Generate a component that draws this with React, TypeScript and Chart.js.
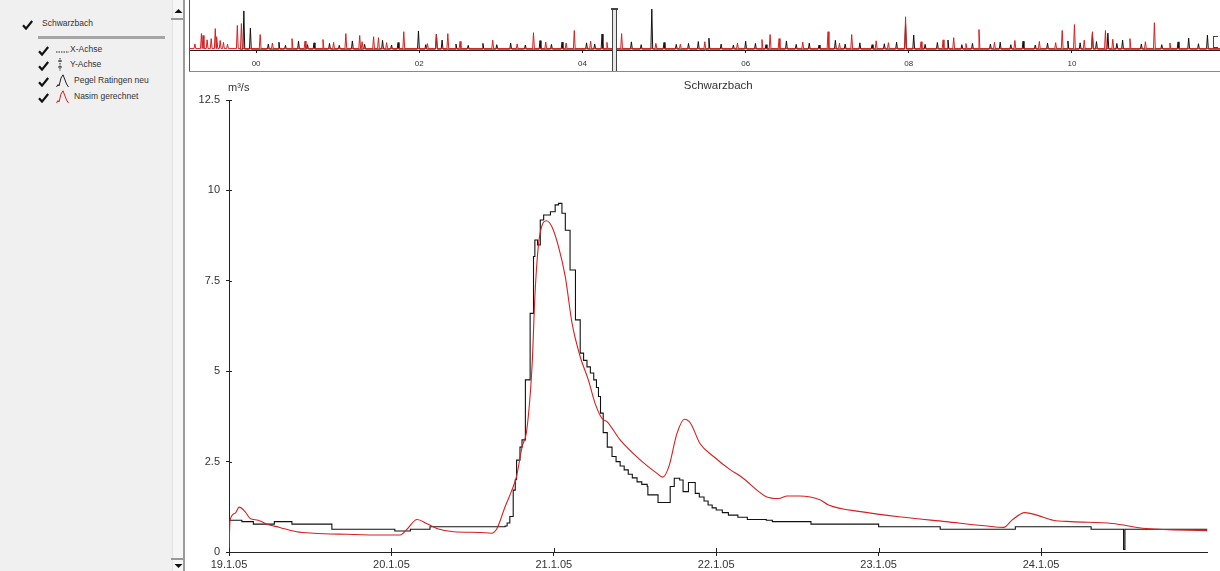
import React, { useEffect, useRef } from 'react';
import { Chart, registerables } from 'chart.js';
Chart.register(...registerables);

const FONT = '"Liberation Sans", Arial, sans-serif';
const RED = '#d71f1f';
const BLACK = '#111111';

// ---------- main chart (hours since 19.1.05 00:00) ----------
const xTickHours = [0, 24, 48, 72, 96, 120];
const xTickLabels = ['19.1.05', '20.1.05', '21.1.05', '22.1.05', '23.1.05', '24.1.05'];
const yTicks = [0, 2.5, 5, 7.5, 10, 12.5];
const yTickLabels = ['0', '2.5', '5', '7.5', '10', '12.5'];
const xMaxHours = 144.6;

// Pegel Ratingen neu (measured, stepped)
const pegelHours = [
  0, 1.9, 3.6, 6.7, 9.3, 15.2, 24.5, 26.8, 29.7, 40.8, 41.1, 41.5, 42.0, 42.3, 42.5, 43.0, 43.3,
  43.8, 44.5, 45.0, 45.2, 45.6, 46.0, 46.5, 47.5, 48.2, 48.7, 49.2, 49.7, 50.4, 51.2, 51.9, 52.4,
  52.9, 53.4, 53.9, 54.3, 54.6, 54.9, 55.3, 55.9, 56.6, 57.2, 57.8, 58.4, 59.0, 59.6, 60.3, 61.0,
  61.8, 61.9, 63.4, 64.6, 65.2, 65.8, 66.6, 67.1, 67.9, 68.9, 69.5, 70.2, 70.8, 71.4, 72.0, 72.9,
  73.8, 75.2, 76.6, 79.4, 80.3, 86.0, 96.0, 105.1, 116.2, 127.4, 131.9, 132.2, 132.4, 144.6,
];
const pegelValues = [
  0.88, 0.84, 0.77, 0.84, 0.77, 0.63, 0.58, 0.63, 0.70, 0.72, 0.80, 0.98, 1.71, 2.0, 2.54, 2.9, 3.1,
  4.76, 6.6, 8.17, 8.63, 8.49, 9.18, 9.32, 9.41, 9.6, 9.64, 9.37, 8.9, 7.8, 6.42, 5.5, 5.3,
  5.12, 4.95, 4.76, 4.55, 4.3, 3.84, 3.3, 2.9, 2.64, 2.5, 2.38, 2.27, 2.15, 2.05, 1.94, 1.87,
  1.81, 1.58, 1.37, 1.37, 1.81, 2.04, 1.99, 1.67, 1.92, 1.62, 1.52, 1.41, 1.30, 1.22, 1.16, 1.09,
  1.02, 0.96, 0.90, 0.88, 0.84, 0.77, 0.70, 0.63, 0.70, 0.63, 0.63, 0.07, 0.63, 0.63,
];

// Nasim gerechnet (simulated)
const nasimHours = [
  0, 0.15, 0.9, 1.5, 2.4, 3.1, 4.3, 5.6, 7.5, 10.0, 12.5, 17.4, 22.3, 25.3, 26.3, 27.8, 29.2, 30.7,
  33.2, 37.1, 38.8, 39.6, 40.8, 41.8, 42.5, 43.3, 44.0, 44.8, 45.2, 45.7, 46.2, 46.9, 47.7, 48.7,
  49.7, 50.7, 51.9, 53.1, 54.1, 55.1, 55.9, 57.8, 60.8, 63.2, 64.1, 65.0, 66.2, 67.3, 68.2, 69.6,
  71.6, 74.1, 75.7, 79.4, 81.2, 82.5, 84.3, 87.4, 88.6, 93.6, 99.7, 105.9, 112.0, 114.5, 115.7,
  117.6, 119.4, 121.8, 124.4, 130.5, 135.5, 144.6,
];
const nasimValues = [
  0.0, 0.88, 1.07, 1.24, 1.11, 0.93, 0.88, 0.77, 0.68, 0.56, 0.52, 0.49, 0.47, 0.47, 0.63, 0.90, 0.79, 0.65,
  0.56, 0.54, 0.52, 0.65, 1.25, 1.71, 2.1, 2.9, 3.37, 5.2, 7.06, 8.44, 9.0, 9.16, 9.0, 8.44,
  7.61, 6.32, 5.4, 4.76, 4.11, 3.70, 3.6, 3.1, 2.54, 2.18, 2.07, 2.36, 3.28, 3.67, 3.56, 3.0,
  2.64, 2.27, 2.08, 1.53, 1.48, 1.55, 1.55, 1.44, 1.30, 1.11, 0.96, 0.84, 0.72, 0.68, 0.88,
  1.09, 1.02, 0.88, 0.84, 0.79, 0.65, 0.59,
];

// ---------- overview chart (years) ----------
const ovMin = 1999.19;
const ovMax = 2011.814;
const ovTickYears = [2000, 2002, 2004, 2006, 2008, 2010];
const ovTickLabels = ['00', '02', '04', '06', '08', '10'];
const ovMarkerYear = 2004.39;
const ovPegelStart = 1999.8;
const ovNasimStart = 1999.19;
const ovPegelBase = 0.3;
const ovNasimBase = 0.45;

const ovNasimSpikeYears = [
  1999.25, 1999.33, 1999.35, 1999.4, 1999.45, 1999.5, 1999.52, 1999.56, 1999.6, 1999.65, 1999.77, 1999.82,
  2000.05, 2000.2, 2000.44, 2000.6, 2000.82, 2000.95, 2001.1, 2001.27, 2001.3, 2001.44, 2001.5, 2001.6,
  2001.81, 2002.1, 2002.21, 2002.35, 2002.5, 2002.9, 2003.2, 2003.4, 2003.55, 2003.8, 2003.9, 2004.1,
  2004.3, 2004.48, 2004.9, 2005.2, 2005.5, 2005.9, 2006.2, 2006.3, 2006.41, 2006.7, 2007.01, 2007.15,
  2007.3, 2007.6, 2007.75, 2007.96, 2008.15, 2008.42, 2008.55, 2008.7, 2008.86, 2009.05, 2009.3, 2009.6,
  2009.8, 2009.88, 2010.03, 2010.15, 2010.25, 2010.41, 2010.5, 2010.71, 2010.9, 2011.01, 2011.2,
];
const ovNasimSpikeHeights = [
  1.5, 4.8, 4.2, 2.8, 3.2, 6.4, 3.8, 2.6, 2.0, 1.4, 7.4, 8.0,
  4.5, 1.8, 3.2, 2.4, 2.9, 2.0, 4.8, 4.2, 2.2, 3.8, 3.5, 1.9,
  5.4, 1.6, 4.5, 4.8, 2.3, 2.7, 1.5, 5.1, 2.1, 1.8, 5.8, 2.4,
  2.0, 4.8, 1.7, 1.4, 2.2, 1.8, 2.9, 4.5, 3.2, 2.1, 5.4, 1.7,
  4.5, 2.5, 1.9, 10.2, 2.2, 2.8, 3.5, 1.6, 6.1, 2.0, 2.6, 2.3,
  1.9, 5.8, 7.7, 2.7, 5.4, 5.8, 3.0, 3.2, 2.2, 8.3, 1.8,
];

const ovPegelSpikeYears = [
  1999.85, 1999.93, 2000.15, 2000.28, 2000.36, 2000.52, 2000.63, 2000.71, 2000.9, 2001.02, 2001.18,
  2001.33, 2001.55, 2001.66, 2001.74, 2001.99, 2002.08, 2002.21, 2002.28, 2002.45, 2002.6, 2002.78,
  2002.95, 2003.12, 2003.3, 2003.48, 2003.62, 2003.75, 2004.05, 2004.15, 2004.24, 2004.4, 2004.6,
  2004.72, 2004.85, 2005.0, 2005.15, 2005.3, 2005.42, 2005.55, 2005.7, 2005.85, 2006.0, 2006.12,
  2006.25, 2006.5, 2006.62, 2006.78, 2006.9, 2007.1, 2007.22, 2007.4, 2007.55, 2007.7, 2007.85,
  2007.96, 2008.06, 2008.2, 2008.35, 2008.48, 2008.65, 2008.78, 2009.0, 2009.12, 2009.25, 2009.4,
  2009.55, 2009.7, 2009.95, 2010.1, 2010.25, 2010.3, 2010.44, 2010.55, 2010.62, 2010.85, 2011.1,
  2011.3, 2011.43, 2011.55, 2011.66,
];
const ovPegelSpikeHeights = [
  12.2, 6.7, 1.6, 2.2, 1.2, 2.5, 1.4, 2.0, 1.8, 1.2, 2.6,
  1.5, 2.8, 1.3, 2.1, 5.8, 1.4, 4.8, 2.9, 1.6, 1.2, 1.8,
  1.4, 1.9, 1.3, 2.7, 1.5, 2.2, 2.0, 1.6, 4.8, 5.4, 2.3,
  1.4, 12.8, 2.1, 1.5, 1.8, 2.4, 3.5, 1.6, 1.3, 2.5, 1.8,
  1.4, 2.6, 1.5, 1.9, 1.3, 2.8, 1.6, 2.0, 1.4, 1.7, 2.2,
  8.0, 4.5, 1.5, 2.1, 2.9, 1.4, 1.8, 1.6, 2.2, 1.4, 2.5,
  1.3, 1.9, 2.6, 2.0, 4.8, 2.4, 5.1, 1.8, 2.9, 1.6, 1.4,
  2.3, 3.5, 1.7, 4.5,
];

function spikeSeries(start: number, end: number, base: number, years: number[], heights: number[]) {
  const pts: { x: number; y: number }[] = [{ x: start, y: base }];
  years.forEach((t, i) => {
    pts.push({ x: t - 0.011, y: base });
    pts.push({ x: t, y: base + heights[i] });
    pts.push({ x: t + 0.011, y: base });
  });
  pts.push({ x: end, y: base });
  pts.sort((a, b) => a.x - b.x);
  return pts;
}

function CheckMark({ x, y }: { x: number; y: number }) {
  return (
    <svg style={{ position: 'absolute', left: x, top: y }} width={11} height={10}>
      <path d="M1 5.2 L4 8.6 L10.2 1" stroke="#111" strokeWidth={2.2} fill="none" />
    </svg>
  );
}

function Label({ x, y, text }: { x: number; y: number; text: string }) {
  return (
    <div style={{ position: 'absolute', left: x, top: y, fontSize: 8.5, lineHeight: '10px', color: '#333', fontFamily: FONT, whiteSpace: 'nowrap' }}>
      {text}
    </div>
  );
}

export default function App() {
  const mainRef = useRef<HTMLCanvasElement>(null);
  const ovRef = useRef<HTMLCanvasElement>(null);

  useEffect(() => {
    document.body.style.margin = '0';
    const mainCanvas = mainRef.current!;
    const ovCanvas = ovRef.current!;

    const mainDecor = {
      id: 'mainDecor',
      afterDraw(chart: any) {
        const { ctx, chartArea, scales } = chart;
        ctx.save();
        ctx.strokeStyle = '#222';
        ctx.lineWidth = 1;
        xTickHours.forEach((h) => {
          const px = Math.round(scales.x.getPixelForValue(h)) + 0.5;
          ctx.beginPath();
          ctx.moveTo(px, chartArea.bottom);
          ctx.lineTo(px, chartArea.bottom - 4);
          ctx.stroke();
        });
        yTicks.forEach((v) => {
          const py = Math.round(scales.y.getPixelForValue(v)) + 0.5;
          ctx.beginPath();
          ctx.moveTo(chartArea.left, py);
          ctx.lineTo(chartArea.left + 3, py);
          ctx.stroke();
        });
        ctx.fillStyle = '#333';
        ctx.font = `11.5px ${FONT}`;
        ctx.textAlign = 'center';
        ctx.textBaseline = 'middle';
        ctx.fillText('Schwarzbach', (chartArea.left + chartArea.right) / 2, 12);
        ctx.font = `11px ${FONT}`;
        ctx.textAlign = 'left';
        ctx.fillText('m³/s', chartArea.left - 1, 14);
        ctx.restore();
      },
    };

    const mainChart = new Chart(mainCanvas, {
      type: 'line',
      data: {
        datasets: [
          {
            label: 'Nasim gerechnet',
            data: nasimHours.map((x, i) => ({ x, y: nasimValues[i] })),
            borderColor: RED,
            borderWidth: 1.1,
            pointRadius: 0,
            cubicInterpolationMode: 'monotone',
            fill: false,
          },
          {
            label: 'Pegel Ratingen neu',
            data: pegelHours.map((x, i) => ({ x, y: pegelValues[i] })),
            borderColor: BLACK,
            borderWidth: 1.1,
            pointRadius: 0,
            stepped: true,
            fill: false,
          },
        ],
      },
      options: {
        animation: false,
        responsive: false,
        maintainAspectRatio: false,
        layout: { padding: { left: 0, right: 12.5, top: 26, bottom: 0 } },
        plugins: { legend: { display: false }, tooltip: { enabled: false }, title: { display: false } },
        scales: {
          x: {
            type: 'linear',
            min: 0,
            max: xMaxHours,
            afterBuildTicks: (s: any) => {
              s.ticks = xTickHours.map((v) => ({ value: v }));
            },
            afterFit: (s: any) => {
              s.height = 19;
            },
            ticks: {
              autoSkip: false,
              maxRotation: 0,
              padding: 2,
              color: '#333',
              font: { family: FONT, size: 11 },
              callback: (v: any) => xTickLabels[xTickHours.indexOf(Number(v))] ?? '',
            },
            grid: { drawOnChartArea: false, drawTicks: true, tickLength: 4, color: '#222' },
            border: { color: '#222', width: 1 },
          },
          y: {
            min: 0,
            max: 12.5,
            afterBuildTicks: (s: any) => {
              s.ticks = yTicks.map((v) => ({ value: v }));
            },
            afterFit: (s: any) => {
              s.width = 43;
            },
            ticks: {
              padding: 6,
              color: '#333',
              font: { family: FONT, size: 11 },
              callback: (v: any) => yTickLabels[yTicks.indexOf(Number(v))] ?? '',
            },
            grid: { drawOnChartArea: false, drawTicks: true, tickLength: 3, color: '#222' },
            border: { color: '#222', width: 1 },
          },
        },
      },
      plugins: [mainDecor],
    } as any);

    const ovDecor = {
      id: 'ovDecor',
      afterDraw(chart: any) {
        const { ctx, scales } = chart;
        const px = Math.round(scales.x.getPixelForValue(ovMarkerYear));
        ctx.save();
        ctx.fillStyle = '#e8e8e8';
        ctx.fillRect(px - 1, 10, 3, 61);
        ctx.strokeStyle = '#444';
        ctx.lineWidth = 1;
        ctx.beginPath();
        ctx.moveTo(px - 1.5, 10);
        ctx.lineTo(px - 1.5, 71);
        ctx.moveTo(px + 2.5, 10);
        ctx.lineTo(px + 2.5, 71);
        ctx.stroke();
        ctx.lineWidth = 2;
        ctx.beginPath();
        ctx.moveTo(px - 3, 9);
        ctx.lineTo(px + 4, 9);
        ctx.stroke();
        ctx.restore();
      },
    };

    const ovChart = new Chart(ovCanvas, {
      type: 'line',
      data: {
        datasets: [
          {
            label: 'Nasim gerechnet',
            data: spikeSeries(ovNasimStart, ovMax, ovNasimBase, ovNasimSpikeYears, ovNasimSpikeHeights),
            borderColor: RED,
            borderWidth: 1,
            pointRadius: 0,
            tension: 0,
          },
          {
            label: 'Pegel Ratingen neu',
            data: spikeSeries(ovPegelStart, ovMax, ovPegelBase, ovPegelSpikeYears, ovPegelSpikeHeights),
            borderColor: BLACK,
            borderWidth: 1,
            pointRadius: 0,
            tension: 0,
          },
        ],
      },
      options: {
        animation: false,
        responsive: false,
        maintainAspectRatio: false,
        layout: { padding: 0 },
        plugins: { legend: { display: false }, tooltip: { enabled: false } },
        scales: {
          x: {
            type: 'linear',
            min: ovMin,
            max: ovMax,
            afterBuildTicks: (s: any) => {
              s.ticks = ovTickYears.map((v) => ({ value: v }));
            },
            afterFit: (s: any) => {
              s.height = 21;
            },
            ticks: {
              autoSkip: false,
              maxRotation: 0,
              padding: 6,
              color: '#333',
              font: { family: FONT, size: 8 },
              callback: (v: any) => ovTickLabels[ovTickYears.indexOf(Number(v))] ?? '',
            },
            grid: { drawOnChartArea: false, drawTicks: true, tickLength: 3, color: '#222' },
            border: { color: '#222', width: 1 },
          },
          y: { display: false, min: 0, max: 16 },
        },
      },
      plugins: [ovDecor],
    } as any);

    return () => {
      mainChart.destroy();
      ovChart.destroy();
    };
  }, []);

  return (
    <div style={{ position: 'fixed', left: 0, top: 0, width: 1220, height: 571, background: '#fff', overflow: 'hidden', fontFamily: FONT }}>
      <div style={{ position: 'absolute', left: 0, top: 0, width: 172, height: 571, background: '#f0f0f0' }} />
      <div style={{ position: 'absolute', left: 172, top: 0, width: 11, height: 571, background: '#f6f6f6', borderLeft: '1px solid #e2e2e2' }} />
      <div style={{ position: 'absolute', left: 171, top: 18, width: 12, height: 2, background: '#9a9a9a' }} />
      <div style={{ position: 'absolute', left: 171, top: 558, width: 12, height: 2, background: '#9a9a9a' }} />
      <svg style={{ position: 'absolute', left: 174, top: 8 }} width={9} height={6}>
        <path d="M0.5 5 L4.5 1 L8.5 5 Z" fill="#111" />
      </svg>
      <svg style={{ position: 'absolute', left: 174, top: 563 }} width={9} height={6}>
        <path d="M0.5 1 L4.5 5 L8.5 1 Z" fill="#111" />
      </svg>
      <div style={{ position: 'absolute', left: 183, top: 0, width: 2, height: 571, background: '#9c9c9c' }} />

      <CheckMark x={22} y={20} />
      <Label x={42} y={18} text="Schwarzbach" />
      <div style={{ position: 'absolute', left: 38, top: 36, width: 127, height: 3, background: '#a5a5a5' }} />

      <CheckMark x={38} y={46} />
      <svg style={{ position: 'absolute', left: 56, top: 48 }} width={14} height={6}>
        <line x1={0} y1={4} x2={13} y2={4} stroke="#222" strokeWidth={1} strokeDasharray="1.5 1" />
      </svg>
      <Label x={70} y={44} text="X-Achse" />

      <CheckMark x={38} y={61} />
      <svg style={{ position: 'absolute', left: 57, top: 58 }} width={6} height={14}>
        <line x1={3} y1={0} x2={3} y2={13} stroke="#222" strokeWidth={1} strokeDasharray="1.5 1" />
        <line x1={1} y1={3} x2={5} y2={3} stroke="#222" strokeWidth={1} />
        <line x1={1} y1={9} x2={5} y2={9} stroke="#222" strokeWidth={1} />
      </svg>
      <Label x={70} y={59} text="Y-Achse" />

      <CheckMark x={38} y={77} />
      <svg style={{ position: 'absolute', left: 56, top: 74 }} width={14} height={14}>
        <polyline points="0.5,13 2,10.5 3,12 5,4 7,0.8 9,6 10.5,10 12.5,13" stroke="#222" strokeWidth={1} fill="none" />
      </svg>
      <Label x={74} y={75} text="Pegel Ratingen neu" />

      <CheckMark x={38} y={93} />
      <svg style={{ position: 'absolute', left: 56, top: 90 }} width={14} height={14}>
        <polyline points="0.5,13 2,10.5 3,12 5,4 7,0.8 9,6 10.5,10 12.5,13" stroke={RED} strokeWidth={1} fill="none" />
      </svg>
      <Label x={74} y={91} text="Nasim gerechnet" />

      <div style={{ position: 'absolute', left: 189, top: 0, width: 1, height: 72, background: '#555' }} />
      <div style={{ position: 'absolute', left: 189, top: 71, width: 1031, height: 1, background: '#8a8a8a' }} />
      <div style={{ position: 'absolute', left: 1213, top: 36, width: 1, height: 12, background: '#444' }} />
      <div style={{ position: 'absolute', left: 1213, top: 36, width: 5, height: 1, background: '#444' }} />
      <div style={{ position: 'absolute', left: 1213, top: 47, width: 5, height: 1, background: '#444' }} />
      <canvas ref={ovRef} width={1030} height={71} style={{ position: 'absolute', left: 190, top: 0, width: 1030, height: 71 }} />

      <canvas ref={mainRef} width={1034} height={497} style={{ position: 'absolute', left: 186, top: 74, width: 1034, height: 497 }} />
    </div>
  );
}
